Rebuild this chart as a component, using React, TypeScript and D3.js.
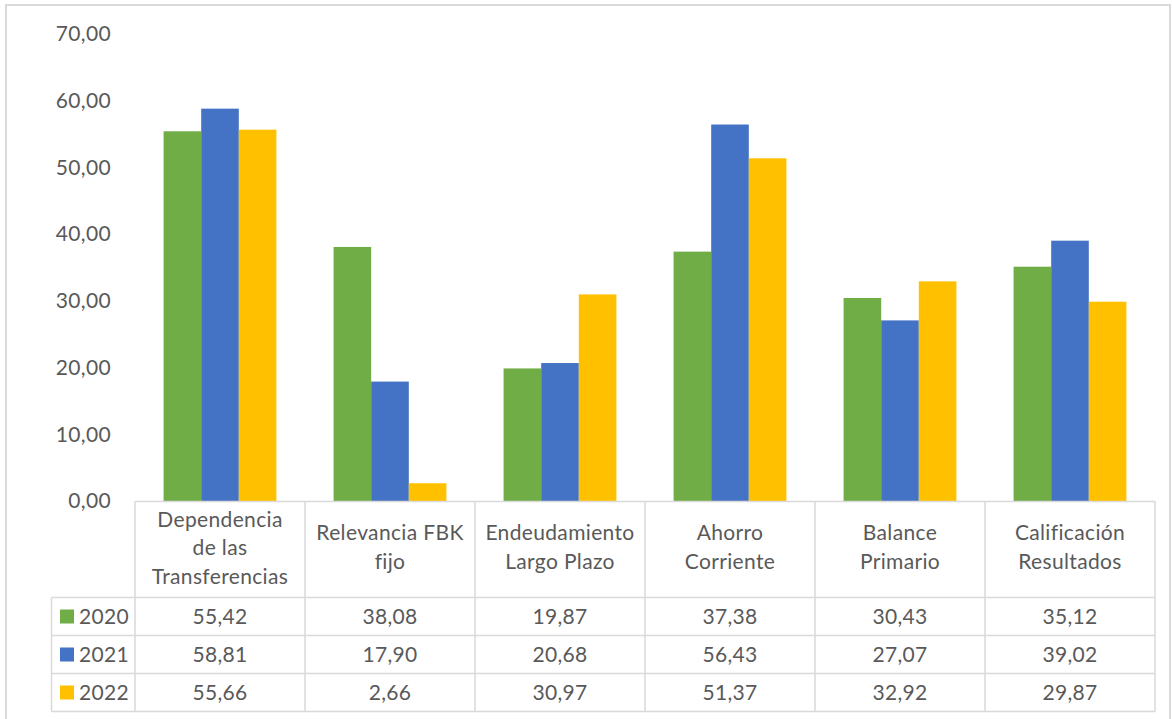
import React from "react";
import * as d3 from "d3";

const categories: string[][] = [
  ["Dependencia", "de las", "Transferencias"],
  ["Relevancia FBK", "fijo"],
  ["Endeudamiento", "Largo Plazo"],
  ["Ahorro", "Corriente"],
  ["Balance", "Primario"],
  ["Calificación", "Resultados"],
];
const seriesNames = ["2020", "2021", "2022"];
const values2020 = [55.42, 38.08, 19.87, 37.38, 30.43, 35.12];
const values2021 = [58.81, 17.9, 20.68, 56.43, 27.07, 39.02];
const values2022 = [55.66, 2.66, 30.97, 51.37, 32.92, 29.87];
const yTicks = [0, 10, 20, 30, 40, 50, 60, 70];
const colors = ["#70AD47", "#4472C4", "#FFC000"];

const fmt = (v: number) => v.toFixed(2).replace(".", ",");

export default function App() {
  const W = 1172, H = 719;
  const series = [values2020, values2021, values2022];
  const x0 = d3.scaleBand<number>().domain(d3.range(categories.length)).range([135, 1155]).paddingInner(0).paddingOuter(0);
  const x1 = d3.scaleBand<number>().domain([0, 1, 2]).range([0, x0.bandwidth()]).paddingOuter(0.76).paddingInner(0);
  const y = d3.scaleLinear().domain([0, 70]).range([501, 34]);
  const font = "Lato, 'Open Sans', sans-serif";
  const textColor = "#595959";
  const lineColor = "#D9D9D9";
  const fs = 21;
  const ls = 0.35;
  const headerTop = 501.5, headerBottom = 597.5, rowH = 38;
  const tableLeft = 51.5;
  const rowYs = [headerBottom, headerBottom + rowH, headerBottom + 2 * rowH, headerBottom + 3 * rowH];

  return (
    <svg width={W} height={H} style={{ position: "absolute", left: 0, top: 0, background: "#fff" }} fontFamily={font} letterSpacing={ls}>
      <rect x={0} y={0} width={W} height={H} fill="#fff" />
      <rect x={6} y={5} width={1164} height={730} fill="none" stroke={lineColor} strokeWidth={2} />
      {yTicks.map((t) => (
        <text key={t} x={111} y={y(t)} dy="0.35em" textAnchor="end" fontSize={fs} fill={textColor}>
          {fmt(t)}
        </text>
      ))}
      {series.map((vals, si) =>
        vals.map((v, ci) => (
          <rect
            key={`${si}-${ci}`}
            x={(x0(ci) as number) + (x1(si) as number)}
            y={y(v)}
            width={x1.bandwidth()}
            height={y(0) - y(v)}
            fill={colors[si]}
          />
        ))
      )}
      {/* table lines */}
      <line x1={135} x2={1155} y1={headerTop} y2={headerTop} stroke={lineColor} strokeWidth={1.5} />
      {rowYs.map((ry, i) => (
        <line key={i} x1={tableLeft} x2={1155} y1={ry} y2={ry} stroke={lineColor} strokeWidth={1.5} />
      ))}
      <line x1={tableLeft} x2={tableLeft} y1={headerBottom} y2={rowYs[3]} stroke={lineColor} strokeWidth={1.5} />
      {d3.range(categories.length + 1).map((i) => {
        const xx = i < categories.length ? (x0(i) as number) : 1155;
        return <line key={i} x1={xx} x2={xx} y1={headerTop} y2={rowYs[3]} stroke={lineColor} strokeWidth={1.5} />;
      })}
      {categories.map((lines, ci) => {
        const cx = (x0(ci) as number) + x0.bandwidth() / 2;
        const lh = 28.5;
        const cy = 548;
        const start = lines.length === 3 ? cy - lh : 533;
        return (
          <text key={ci} x={cx} textAnchor="middle" fontSize={fs} fill={textColor}>
            {lines.map((l, li) => (
              <tspan key={li} x={cx} y={start + li * lh} dy="0.35em">
                {l}
              </tspan>
            ))}
          </text>
        );
      })}
      {series.map((vals, si) => {
        const cy = headerBottom + rowH * si + rowH / 2;
        return (
          <g key={si}>
            <rect x={60} y={cy - 7} width={14} height={14} fill={colors[si]} />
            <text x={79} y={cy} dy="0.35em" fontSize={fs} fill={textColor}>
              {seriesNames[si]}
            </text>
            {vals.map((v, ci) => (
              <text
                key={ci}
                x={(x0(ci) as number) + x0.bandwidth() / 2}
                y={cy}
                dy="0.35em"
                textAnchor="middle"
                fontSize={fs}
                fill={textColor}
              >
                {fmt(v)}
              </text>
            ))}
          </g>
        );
      })}
    </svg>
  );
}
